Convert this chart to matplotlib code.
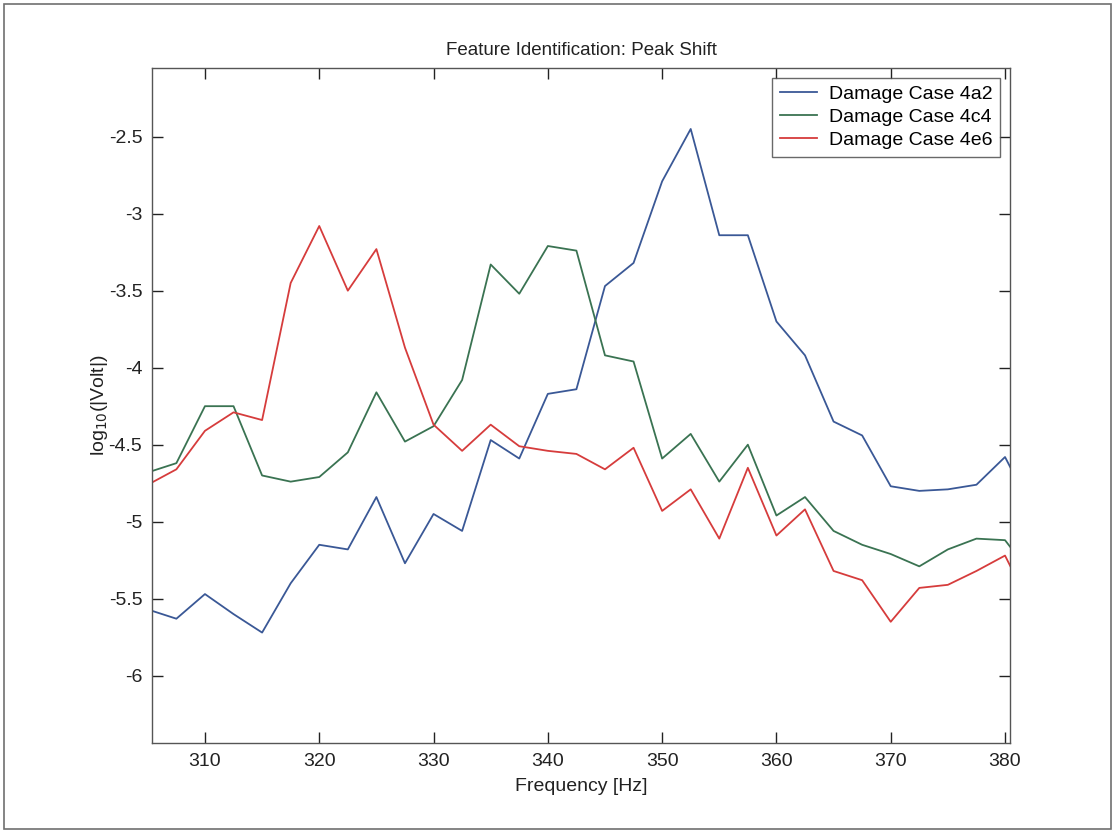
import numpy as np
import matplotlib
matplotlib.use('Agg')
import matplotlib.pyplot as plt
from matplotlib.patches import Rectangle

plt.rcParams['font.family'] = ['Liberation Sans', 'DejaVu Sans']

# frequency grid (Hz), 2.5 Hz spacing
freq = [305.0, 307.5, 310.0, 312.5, 315.0, 317.5, 320.0, 322.5, 325.0, 327.5,
        330.0, 332.5, 335.0, 337.5, 340.0, 342.5, 345.0, 347.5, 350.0, 352.5,
        355.0, 357.5, 360.0, 362.5, 365.0, 367.5, 370.0, 372.5, 375.0, 377.5,
        380.0, 382.5]

# log10 of response amplitude for each damage case
case_4a2 = [-5.57, -5.63, -5.47, -5.60, -5.72, -5.40, -5.15, -5.18, -4.84, -5.27,
            -4.95, -5.06, -4.47, -4.59, -4.17, -4.14, -3.47, -3.32, -2.79, -2.45,
            -3.14, -3.14, -3.70, -3.92, -4.35, -4.44, -4.77, -4.80, -4.79, -4.76,
            -4.58, -4.94]
case_4c4 = [-4.68, -4.62, -4.25, -4.25, -4.70, -4.74, -4.71, -4.55, -4.16, -4.48,
            -4.38, -4.08, -3.33, -3.52, -3.21, -3.24, -3.92, -3.96, -4.59, -4.43,
            -4.74, -4.50, -4.96, -4.84, -5.06, -5.15, -5.21, -5.29, -5.18, -5.11,
            -5.12, -5.36]
case_4e6 = [-4.76, -4.66, -4.41, -4.29, -4.34, -3.45, -3.08, -3.50, -3.23, -3.87,
            -4.37, -4.54, -4.37, -4.51, -4.54, -4.56, -4.66, -4.52, -4.93, -4.79,
            -5.11, -4.65, -5.09, -4.92, -5.32, -5.38, -5.65, -5.43, -5.41, -5.32,
            -5.22, -5.59]

labels = ['Damage Case 4a2', 'Damage Case 4c4', 'Damage Case 4e6']
colors = ['#3a5896', '#3a7352', '#d63c3c']

fig = plt.figure(figsize=(11.13, 8.31), dpi=100)
fig.patch.set_facecolor('white')
# thin grey frame around the whole page
fig.patches.append(Rectangle((0.004, 0.002), 0.994, 0.993, transform=fig.transFigure,
                             fill=False, edgecolor='#707070', linewidth=1.2))

ax = fig.add_axes([0.1366, 0.1059, 0.7709, 0.8123])
for ys, lab, c in zip([case_4a2, case_4c4, case_4e6], labels, colors):
    ax.plot(freq, ys, color=c, linewidth=1.3, label=lab)

ax.set_xlim(305.37, 380.44)
ax.set_ylim(-6.437, -2.054)
ax.set_xticks(np.arange(310, 381, 10))
ax.set_yticks([-6, -5.5, -5, -4.5, -4, -3.5, -3, -2.5])
ax.set_yticklabels(['-6', '-5.5', '-5', '-4.5', '-4', '-3.5', '-3', '-2.5'])
ax.tick_params(direction='in', length=8, width=1, top=True, right=True,
               labelsize=14, colors='#222222', pad=7)
for sp in ax.spines.values():
    sp.set_color('#555555')
    sp.set_linewidth(1)

ax.set_title('Feature Identification: Peak Shift', fontsize=13.5, pad=9, color='#222222')
ax.set_xlabel('Frequency [Hz]', fontsize=14, labelpad=6, color='#222222')
ax.set_ylabel('log$_{10}$(|Volt|)', fontsize=14, labelpad=-1, color='#222222')

leg = ax.legend(loc='upper right', fontsize=14, frameon=True, fancybox=False,
                handlelength=1.9, handletextpad=0.62, borderpad=0.4, labelspacing=0.28,
                borderaxespad=0.5)
leg.get_frame().set_edgecolor('#444444')
leg.get_frame().set_linewidth(1)

fig.savefig('out.png', dpi=100)
